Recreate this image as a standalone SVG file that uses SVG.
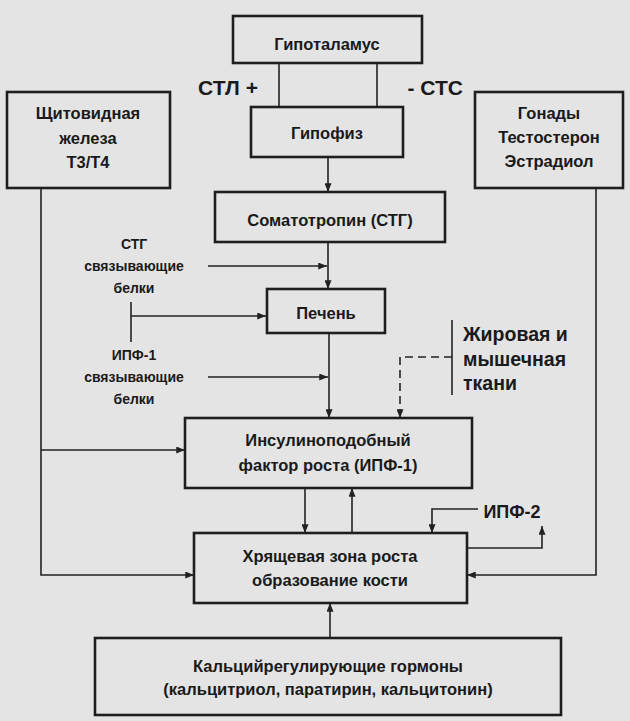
<svg xmlns="http://www.w3.org/2000/svg" width="630" height="721" viewBox="0 0 630 721">
<defs>
<style>
.bg{fill:#e4e4e4}
.box{fill:none;stroke:#1e1e1e;stroke-width:2.6}
.ln{fill:none;stroke:#222;stroke-width:1.6}
.dash{stroke-dasharray:8 5}
.arr{marker-end:url(#ah)}
text{font-family:"Liberation Sans",Arial,sans-serif;font-weight:bold;fill:#1a1a1a;text-anchor:middle}
.t17{font-size:16.5px}
.t14{font-size:14px}
.t20{font-size:19.5px;text-anchor:start}
.t22{font-size:21px}
</style>
<marker id="ah" viewBox="0 0 10 8" refX="10" refY="4" markerWidth="9" markerHeight="7" markerUnits="userSpaceOnUse" orient="auto">
<path d="M0,0 L10,4 L0,8 z" fill="#222"/>
</marker>
</defs>
<rect class="bg" x="0" y="0" width="630" height="721"/>

<g id="connectors">
<path class="ln" d="M279,63 V107"/>
<path class="ln" d="M377,63 V107"/>
<path class="ln arr" d="M328,157 V192"/>
<path class="ln arr" d="M328,242 V289"/>
<path class="ln arr" d="M208,266 H327"/>
<path class="ln" d="M131,302 V342"/>
<path class="ln arr" d="M131,316 H266"/>
<path class="ln arr" d="M329,333 V418"/>
<path class="ln arr" d="M208,377 H328"/>
<path class="ln" d="M452,320 V395"/>
<path class="ln dash arr" d="M452,357 H400 V418"/>
<path class="ln arr" d="M41,188 V575 H194"/>
<path class="ln arr" d="M41,450 H185"/>
<path class="ln arr" d="M596,188 V575 H467"/>
<path class="ln arr" d="M305,488 V533"/>
<path class="ln arr" d="M352,533 V488"/>
<path class="ln arr" d="M478,509 H432 V533"/>
<path class="ln arr" d="M467,548 H542 V526"/>
<path class="ln arr" d="M330,638 V603"/>
</g>

<g id="labels">
<text class="t22" x="228" y="95">СТЛ +</text>
<text class="t22" x="463" y="95" style="text-anchor:end">- СТС</text>
<text class="t14" x="134" y="249">СТГ</text>
<text class="t14" x="134" y="271">связывающие</text>
<text class="t14" x="134" y="293">белки</text>
<text class="t14" x="134" y="360">ИПФ-1</text>
<text class="t14" x="134" y="382">связывающие</text>
<text class="t14" x="134" y="404">белки</text>
<text class="t17" x="512" y="518" style="font-size:18px">ИПФ-2</text>
</g>

<g id="hypothalamus">
<rect class="box" x="233" y="16" width="189" height="47"/>
<text class="t17" x="327" y="50">Гипоталамус</text>
</g>

<g id="pituitary">
<rect class="box" x="251" y="107" width="152" height="50"/>
<text class="t17" x="327" y="139">Гипофиз</text>
</g>

<g id="thyroid">
<rect class="box" x="7" y="92" width="163" height="96"/>
<text class="t17" x="88" y="119">Щитовидная</text>
<text class="t17" x="88" y="144">железа</text>
<text class="t17" x="88" y="168">Т3/Т4</text>
</g>

<g id="gonads">
<rect class="box" x="475" y="92" width="148" height="96"/>
<text class="t17" x="549" y="119">Гонады</text>
<text class="t17" x="549" y="143">Тестостерон</text>
<text class="t17" x="549" y="167">Эстрадиол</text>
</g>

<g id="somatotropin">
<rect class="box" x="215" y="192" width="230" height="50"/>
<text class="t17" x="330" y="226">Соматотропин (СТГ)</text>
</g>

<g id="liver">
<rect class="box" x="267" y="289" width="118" height="44"/>
<text class="t17" x="326" y="319">Печень</text>
</g>

<g id="tissue">
<text class="t20" x="463" y="341">Жировая и</text>
<text class="t20" x="463" y="366">мышечная</text>
<text class="t20" x="463" y="390">ткани</text>
</g>

<g id="igf1">
<rect class="box" x="185" y="418" width="287" height="70"/>
<text class="t17" x="328" y="446">Инсулиноподобный</text>
<text class="t17" x="328" y="471">фактор роста (ИПФ-1)</text>
</g>

<g id="growthzone">
<rect class="box" x="194" y="533" width="273" height="70"/>
<text class="t17" x="330" y="562">Хрящевая зона роста</text>
<text class="t17" x="330" y="586">образование кости</text>
</g>

<g id="calcium">
<rect class="box" x="95" y="638" width="466" height="77"/>
<text class="t17" x="328" y="672">Кальцийрегулирующие гормоны</text>
<text class="t17" x="328" y="695">(кальцитриол, паратирин, кальцитонин)</text>
</g>
</svg>
